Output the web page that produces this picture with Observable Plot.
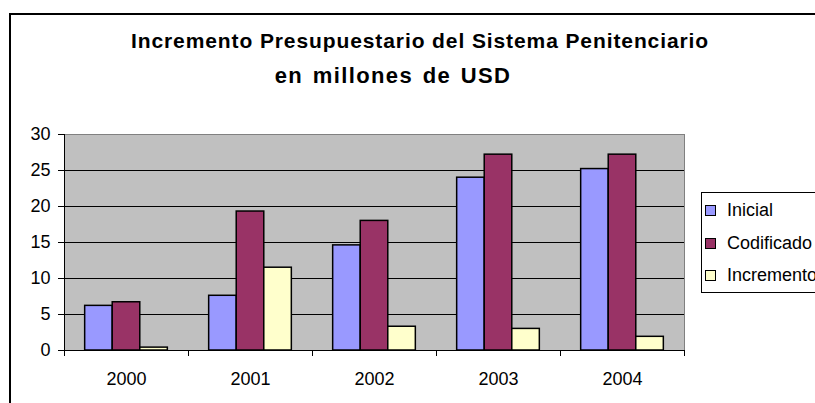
<!DOCTYPE html>
<html>
<head>
<meta charset="utf-8">
<script src="https://cdn.jsdelivr.net/npm/d3@7"></script>
<script src="https://cdn.jsdelivr.net/npm/@observablehq/plot@0.6"></script>
<style>
  body { margin: 0; background: #fff; }
  #wrap { position: relative; width: 815px; height: 403px; overflow: hidden; background: #fff;
          font-family: "Liberation Sans", Arial, sans-serif; color: #000; }
  #border { position: absolute; left: 9px; top: 13px; width: 1000px; height: 600px; border: 2px solid #000; }
  .title { position: absolute; text-align: center; font-weight: bold; white-space: nowrap; }
  #chart { position: absolute; left: 0; top: 110px; }
  #legend { position: absolute; left: 701px; top: 192px; width: 200px; height: 99px;
            border: 1px solid #000; background: #fff; }
  .item { position: absolute; left: 0; font-size: 18px; line-height: 18px; white-space: nowrap; }
  .sw { position: absolute; left: 3px; top: 4px; width: 9px; height: 9px; border: 1px solid #000; }
  .lab { position: absolute; left: 25px; top: 0; }
</style>
</head>
<body>
<div id="wrap">
  <div id="border"></div>
  <div class="title" id="t1" style="left:20px;width:800px;top:30px;font-size:21px;line-height:21px;letter-spacing:0.9px;"></div>
  <div class="title" id="t2" style="left:0px;width:786px;top:64.5px;font-size:22px;line-height:22px;letter-spacing:1.4px;word-spacing:2px;"></div>
  <div id="chart"></div>
  <div id="legend"></div>
</div>
<script>
const titleLines = ["Incremento Presupuestario del Sistema Penitenciario", "en millones de USD"];
const years = ["2000", "2001", "2002", "2003", "2004"];
const seriesNames = ["Inicial", "Codificado", "Incremento"];
const inicial    = [6.2, 7.6, 14.6, 24.0, 25.2];
const codificado = [6.7, 19.3, 18.0, 27.2, 27.2];
const incremento = [0.4, 11.5, 3.3, 3.0, 1.9];
const seriesColors = ["#9999FF", "#993366", "#FFFFCC"];
const yTicks = [0, 5, 10, 15, 20, 25, 30];

document.getElementById("t1").textContent = titleLines[0];
document.getElementById("t2").textContent = titleLines[1];

const values = [inicial, codificado, incremento];
const gapWidth = 0.5;                 // Excel gap width 50%
const groupW = 1 / (1 + gapWidth);
const barW = groupW / seriesNames.length;
const rows = [];
years.forEach((year, i) => {
  seriesNames.forEach((s, k) => {
    rows.push({year, i, series: s, k, value: values[k][i]});
  });
});

const chart = Plot.plot({
  width: 815,
  height: 293,
  marginLeft: 64,
  marginRight: 131,
  marginTop: 24,
  marginBottom: 53,
  style: {fontSize: "18px", fontFamily: '"Liberation Sans", Arial, sans-serif', color: "#000", background: "transparent", overflow: "visible"},
  x: {domain: [0, years.length], axis: null},
  y: {domain: [0, 30], axis: null},
  color: {domain: seriesNames, range: seriesColors},
  marks: [
    Plot.frame({fill: "#C0C0C0", stroke: "#808080"}),
    Plot.ruleY(yTicks.slice(1, -1), {stroke: "#000", strokeWidth: 1}),
    Plot.rectY(rows, {
      x1: d => d.i + (1 - groupW) / 2 + d.k * barW,
      x2: d => d.i + (1 - groupW) / 2 + (d.k + 1) * barW,
      y: "value",
      fill: "series",
      stroke: "#000",
      strokeWidth: 1.5
    }),
    Plot.ruleX([0], {stroke: "#000"}),
    Plot.ruleY([0], {stroke: "#000"}),
    Plot.axisY({ticks: yTicks, tickSize: 6, tickPadding: 8, fontSize: 18, label: null}),
    Plot.axisX({ticks: d3.range(years.length + 1), tickSize: 6, tickFormat: () => "", label: null}),
    Plot.axisX({ticks: years.map((_, i) => i + 0.5), tickSize: 0, tickPadding: 22, fontSize: 18, label: null,
                tickFormat: d => years[Math.floor(d)]})
  ]
});
document.getElementById("chart").appendChild(chart);

const legend = document.getElementById("legend");
seriesNames.forEach((s, k) => {
  const item = document.createElement("div");
  item.className = "item";
  item.style.top = (8 + k * 32.7) + "px";
  item.innerHTML = `<div class="sw" style="background:${seriesColors[k]}"></div><div class="lab"></div>`;
  item.querySelector(".lab").textContent = s;
  legend.appendChild(item);
});
</script>
</body>
</html>
